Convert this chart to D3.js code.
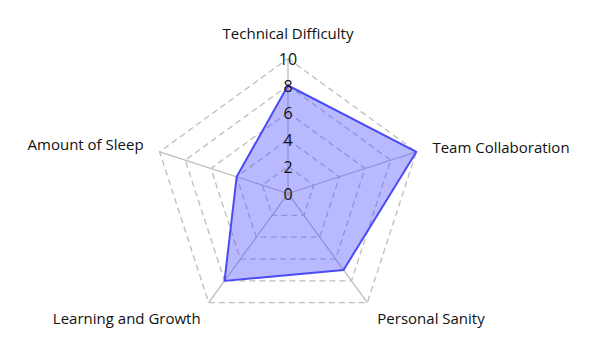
<!DOCTYPE html>
<html>
<head>
<meta charset="utf-8">
<script src="https://cdn.jsdelivr.net/npm/d3@7"></script>
<style>
  body { margin: 0; background: #fff; }
  text { font-family: "Open Sans", sans-serif; fill: #111; }
</style>
</head>
<body>
<div id="chart"></div>
<script>
const axes = ["Technical Difficulty", "Team Collaboration", "Personal Sanity", "Learning and Growth", "Amount of Sleep"];
const values = [8, 10, 7, 8, 4];
const ticks = [0, 2, 4, 6, 8, 10];

const width = 595, height = 351;
const cx = 288, cy = 193.5, radius = 135;

const svg = d3.select("#chart").append("svg")
    .attr("width", width)
    .attr("height", height);

const r = d3.scaleLinear().domain([0, 10]).range([0, radius]);
const angle = d3.scalePoint().domain(d3.range(axes.length + 1)).range([0, 2 * Math.PI]);

const pt = (i, v) => {
  const a = angle(i);
  return [cx + r(v) * Math.sin(a), cy - r(v) * Math.cos(a)];
};

const g = svg.append("g");

// dashed grid pentagons
ticks.filter(t => t > 0).forEach(t => {
  g.append("path")
    .attr("d", d3.line()(axes.map((_, i) => pt(i, t))) + "Z")
    .attr("fill", "none")
    .attr("stroke", "#bdbdbd")
    .attr("stroke-width", 1.3)
    .attr("stroke-dasharray", "6,4");
});

// spokes
axes.forEach((_, i) => {
  g.append("line")
    .attr("x1", cx).attr("y1", cy)
    .attr("x2", pt(i, 10)[0]).attr("y2", pt(i, 10)[1])
    .attr("stroke", "#bdbdbd")
    .attr("stroke-width", 1.3);
});

// data area
g.append("path")
  .attr("d", d3.line()(values.map((v, i) => pt(i, v))) + "Z")
  .attr("fill", "rgba(80,80,255,0.4)")
  .attr("stroke", "rgb(75,75,245)")
  .attr("stroke-width", 2)
  .attr("stroke-linejoin", "round");

// tick labels
g.selectAll(".tick").data(ticks).join("text")
  .attr("x", cx)
  .attr("y", d => cy - r(d))
  .attr("text-anchor", "middle")
  .attr("dominant-baseline", "central")
  .attr("font-size", 16)
  .text(d => d);

// axis labels
const labelPos = [
  {dx: 0, dy: -26, anchor: "middle"},
  {dx: 16, dy: -5, anchor: "start"},
  {dx: 10, dy: 15, anchor: "start"},
  {dx: -8, dy: 15, anchor: "end"},
  {dx: -16, dy: -8, anchor: "end"}
];
g.selectAll(".axis-label").data(axes).join("text")
  .attr("x", (d, i) => pt(i, 10)[0] + labelPos[i].dx)
  .attr("y", (d, i) => pt(i, 10)[1] + labelPos[i].dy)
  .attr("text-anchor", (d, i) => labelPos[i].anchor)
  .attr("dominant-baseline", "central")
  .attr("font-size", 15)
  .text(d => d);
</script>
</body>
</html>
